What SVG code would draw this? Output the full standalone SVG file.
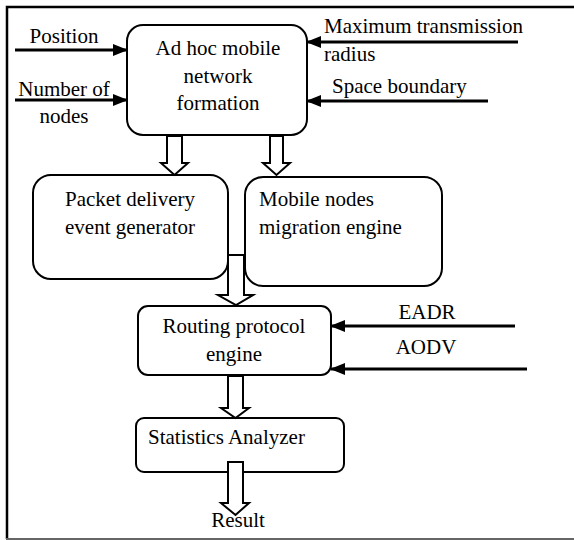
<svg xmlns="http://www.w3.org/2000/svg" width="574" height="540" viewBox="0 0 574 540" font-family="'Liberation Serif', 'DejaVu Serif', serif" font-size="21">
<style>
text{font-family:'Liberation Serif','DejaVu Serif',serif;font-size:21px;fill:#000}
.box{fill:#fff;stroke:#000;stroke-width:2}
.in{stroke:#000;stroke-width:3;fill:none}
.hollow{fill:#fff;stroke:#000;stroke-width:2;stroke-linejoin:miter}
.c{text-anchor:middle}
</style>
<defs>
<marker id="ah" viewBox="0 0 15 12" refX="14" refY="6" markerWidth="15" markerHeight="12" markerUnits="userSpaceOnUse" orient="auto">
<polygon points="0,0 15,6 0,12" fill="#000"/>
</marker>
</defs>
<rect width="574" height="540" fill="#fff"/>
<g id="frame">
<path d="M7,539 V7 H574" fill="none" stroke="#000" stroke-width="2.5"/>
<line x1="6" y1="539" x2="574" y2="539" stroke="#666" stroke-width="2"/>
</g>
<g id="formation">
<rect class="box" x="127" y="25" width="180" height="110" rx="16"/>
<text class="c" x="218" y="55">Ad hoc mobile</text>
<text class="c" x="218" y="83">network</text>
<text class="c" x="218" y="110">formation</text>
</g>
<g id="packet">
<rect class="box" x="33" y="175" width="195" height="104" rx="18"/>
<text class="c" x="130" y="206">Packet delivery</text>
<text class="c" x="130" y="234">event generator</text>
</g>
<g id="migration">
<rect class="box" x="245" y="177" width="197" height="109" rx="18"/>
<text x="259" y="206">Mobile nodes</text>
<text x="259" y="234">migration engine</text>
</g>
<g id="routing">
<rect class="box" x="138" y="306" width="193" height="69" rx="10"/>
<text class="c" x="234" y="333">Routing protocol</text>
<text class="c" x="234" y="361">engine</text>
</g>
<g id="statistics">
<rect class="box" x="136" y="418" width="208" height="54" rx="8"/>
<text x="148" y="444">Statistics Analyzer</text>
</g>
<g id="connectors">
<line class="in" x1="15" y1="50" x2="127" y2="50" marker-end="url(#ah)"/>
<line class="in" x1="15" y1="100" x2="127" y2="100" marker-end="url(#ah)"/>
<line class="in" x1="518" y1="42" x2="307" y2="42" marker-end="url(#ah)"/>
<line class="in" x1="488" y1="101" x2="307" y2="101" marker-end="url(#ah)"/>
<line class="in" x1="515" y1="326" x2="331" y2="326" marker-end="url(#ah)"/>
<line class="in" x1="527" y1="369" x2="331" y2="369" marker-end="url(#ah)"/>
<polygon class="hollow" points="167,136 182,136 182,163 188,163 174.5,175 161,163 167,163"/>
<polygon class="hollow" points="270,136 283,136 283,163 290,163 276.5,175 263,163 270,163"/>
<line x1="228" y1="255" x2="245" y2="255" stroke="#000" stroke-width="2"/>
<polygon class="hollow" points="228,255 244,255 244,295 253,295 236,305 218,295 228,295"/>
<polygon class="hollow" points="228,376 243,376 243,408 249,408 235.5,418 221,408 228,408"/>
<polygon class="hollow" points="228,462 243,462 243,503 249,503 235.5,515 221,503 228,503"/>
<text class="c" x="64" y="43">Position</text>
<text class="c" x="64" y="96">Number of</text>
<text class="c" x="64" y="123">nodes</text>
<text x="324" y="33">Maximum transmission</text>
<text x="324" y="61">radius</text>
<text x="332" y="93">Space boundary</text>
<text class="c" x="427" y="319">EADR</text>
<text class="c" x="426" y="354">AODV</text>
<text class="c" x="238" y="527">Result</text>
</g>
</svg>
